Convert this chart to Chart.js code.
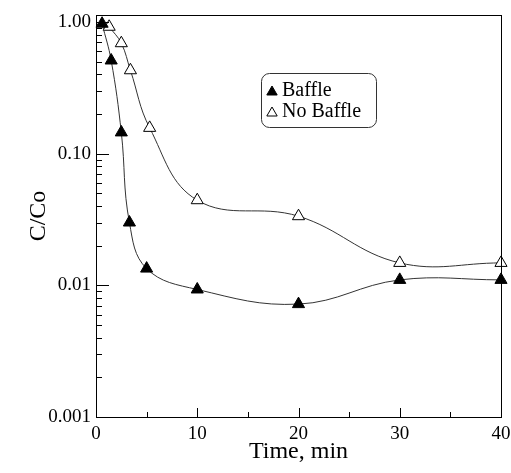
<!DOCTYPE html>
<html>
<head>
<meta charset="utf-8">
<script src="https://cdn.jsdelivr.net/npm/chart.js@4.4.0/dist/chart.umd.min.js"></script>
<style>
  html, body { margin: 0; padding: 0; background: #fff; }
  #wrap { width: 511px; height: 473px; }
</style>
</head>
<body>
<div id="wrap"><canvas id="myChart" width="511" height="473"></canvas></div>
<script>
// values
const baffleTime = [0.6, 1.5, 2.5, 3.3, 5, 10, 20, 30, 40];
const baffleConc = [0.97, 0.51, 0.145, 0.030, 0.0134, 0.0093, 0.0072, 0.0110, 0.0110];

const noBaffleTime = [1.3, 2.5, 3.4, 5.3, 10, 20, 30, 40];
const noBaffleConc = [0.92, 0.69, 0.43, 0.157, 0.0443, 0.0335, 0.0148, 0.0148];

const xTicks = [0, 10, 20, 30, 40];
const xMinor = [5, 15, 25, 35];
const yTicks = [0.001, 0.01, 0.1, 1];
const yTickLabels = ["0.001", "0.01", "0.10", "1.00"];

const serif = "'Liberation Serif', 'DejaVu Serif', serif";

function toPoints(xs, ys) {
    return xs.map((t, i) => ({ x: t, y: ys[i] }));
}

function triangle(ctx, cx, cy, r, filled) {
    ctx.beginPath();
    ctx.moveTo(cx, cy - r);
    ctx.lineTo(cx + r * 0.866, cy + r * 0.5);
    ctx.lineTo(cx - r * 0.866, cy + r * 0.5);
    ctx.closePath();
    ctx.fillStyle = filled ? "#000" : "#fff";
    ctx.fill();
    ctx.strokeStyle = "#000";
    ctx.lineWidth = 1;
    ctx.stroke();
}

// frame, inward ticks and the boxed legend
const framePlugin = {
    id: "frame",
    afterDraw(chart) {
        const ctx = chart.ctx;
        const a = chart.chartArea;
        const x = chart.scales.x, y = chart.scales.y;
        ctx.save();
        ctx.strokeStyle = "#000";
        ctx.lineWidth = 1;
        ctx.strokeRect(a.left + 0.5, a.top + 0.5, a.right - a.left, a.bottom - a.top);

        ctx.beginPath();
        xTicks.forEach(v => {
            const px = Math.round(x.getPixelForValue(v)) + 0.5;
            ctx.moveTo(px, a.bottom); ctx.lineTo(px, a.bottom - 9);
        });
        xMinor.forEach(v => {
            const px = Math.round(x.getPixelForValue(v)) + 0.5;
            ctx.moveTo(px, a.bottom); ctx.lineTo(px, a.bottom - 5);
        });
        [0.001, 0.01, 0.1].forEach(d => {
            for (let m = 1; m <= 9; m++) {
                const py = Math.round(y.getPixelForValue(d * m)) + 0.5;
                ctx.moveTo(a.left, py); ctx.lineTo(a.left + (m === 1 ? 13 : 6), py);
            }
        });
        const p1 = Math.round(y.getPixelForValue(1)) + 0.5;
        ctx.moveTo(a.left, p1); ctx.lineTo(a.left + 13, p1);
        ctx.stroke();

        // legend box
        const bx = 261, by = 73, bw = 115, bh = 54, br = 8;
        ctx.beginPath();
        ctx.roundRect(bx + 0.5, by + 0.5, bw, bh, br);
        ctx.lineWidth = 1;
        ctx.strokeStyle = "#333";
        ctx.stroke();

        ctx.font = "20px " + serif;
        ctx.textBaseline = "middle";
        const ds = chart.data.datasets;
        triangle(ctx, 272, 92, 6, true);
        ctx.fillStyle = "#000";
        ctx.fillText(ds[0].label, 282, 91);
        triangle(ctx, 272, 113, 6, false);
        ctx.fillStyle = "#000";
        ctx.fillText(ds[1].label, 282, 112);
        ctx.restore();
    }
};

const myChartRef = document.getElementById("myChart").getContext("2d");

new Chart(myChartRef, {
    type: "line",
    data: {
        datasets: [
            {
                label: "Baffle",
                data: toPoints(baffleTime, baffleConc),
                borderColor: "#333",
                borderWidth: 1,
                tension: 0.4,
                pointStyle: "triangle",
                pointRadius: 7,
                pointBackgroundColor: "#000",
                pointBorderColor: "#000",
                pointBorderWidth: 1,
                clip: false
            },
            {
                label: "No Baffle",
                data: toPoints(noBaffleTime, noBaffleConc),
                borderColor: "#333",
                borderWidth: 1,
                tension: 0.4,
                pointStyle: "triangle",
                pointRadius: 7,
                pointBackgroundColor: "#fff",
                pointBorderColor: "#000",
                pointBorderWidth: 1,
                clip: false
            }
        ]
    },
    options: {
        responsive: false,
        animation: false,
        layout: { padding: { left: 20, top: 15, right: 10, bottom: 4 } },
        plugins: {
            legend: { display: false },
            tooltip: { enabled: false }
        },
        scales: {
            x: {
                type: "linear",
                min: 0,
                max: 40,
                afterBuildTicks: s => { s.ticks = xTicks.map(v => ({ value: v })); },
                afterFit: s => { s.height = 52; s.paddingLeft = 0; s.paddingRight = 0; },
                grid: { display: false, drawTicks: false },
                border: { display: false },
                ticks: {
                    color: "#000",
                    padding: 6,
                    maxRotation: 0,
                    font: { family: serif, size: 19 }
                },
                title: {
                    display: true,
                    text: "Time, min",
                    color: "#000",
                    padding: { top: 0, bottom: 3 },
                    font: { family: serif, size: 24 }
                }
            },
            y: {
                type: "logarithmic",
                min: 0.001,
                max: 1.13,
                afterBuildTicks: s => { s.ticks = yTicks.map(v => ({ value: v })); },
                afterFit: s => { s.width = 76; s.paddingTop = 0; s.paddingBottom = 0; },
                grid: { display: false, drawTicks: false },
                border: { display: false },
                ticks: {
                    color: "#000",
                    padding: 5,
                    font: { family: serif, size: 19 },
                    callback: v => {
                        const i = yTicks.indexOf(v);
                        return i >= 0 ? yTickLabels[i] : "";
                    }
                },
                title: {
                    display: true,
                    text: "C/Co",
                    color: "#000",
                    padding: { top: 4, bottom: 4 },
                    font: { family: serif, size: 24 }
                }
            }
        }
    },
    plugins: [framePlugin]
});
</script>
</body>
</html>
